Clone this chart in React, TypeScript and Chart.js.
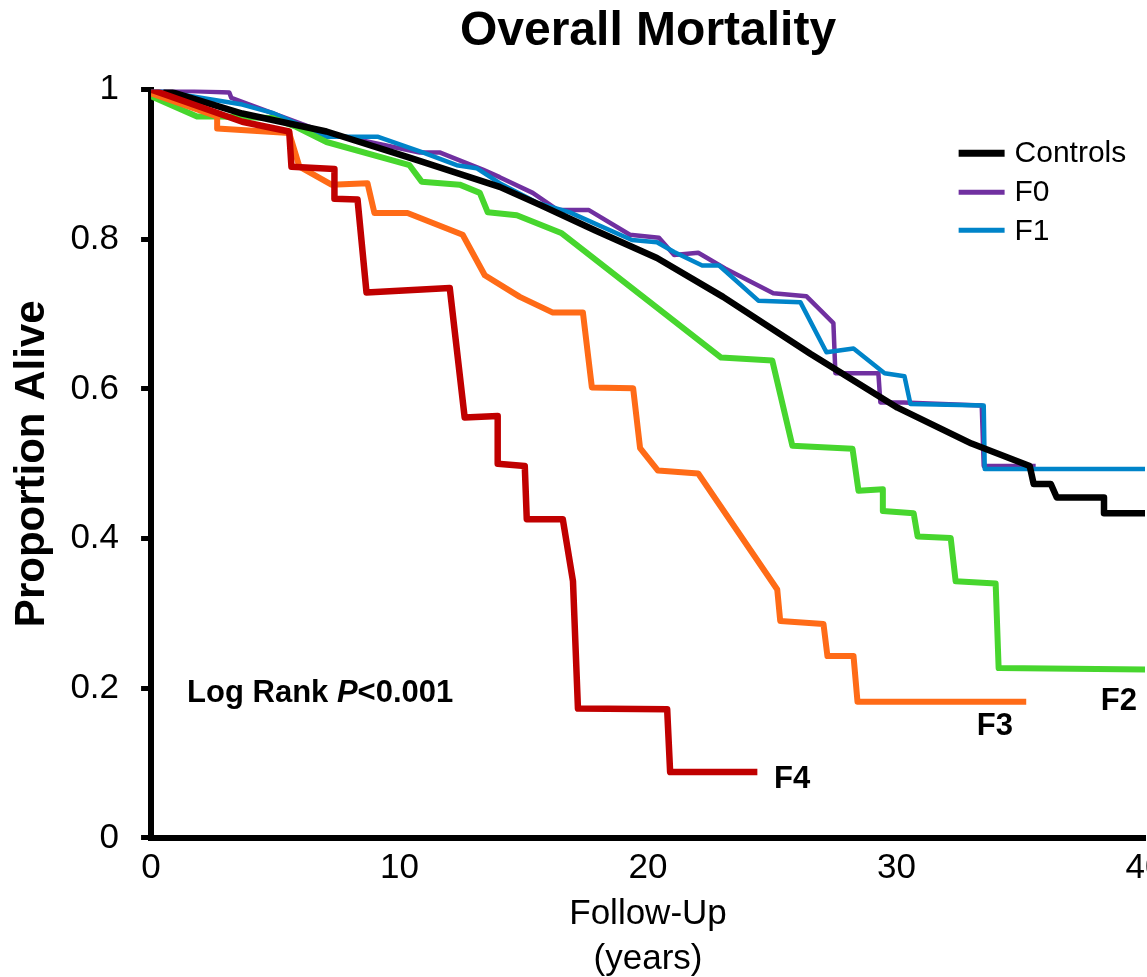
import { useEffect, useRef } from "react";
import { Chart, registerables } from "chart.js";

Chart.register(...registerables);

// ---------- data ----------
const chartTitle = "Overall Mortality";
const xTitle = ["Follow-Up", "(years)"];
const yTitle = "Proportion Alive";
const xMin = 0;
const xMax = 40;
const xStep = 10;
const yMin = 0;
const yMax = 1;
const yStep = 0.2;

const controlsYears = [0.5, 3.67, 7.06, 10.4, 14.03, 15.65, 17.86, 20.36, 23.02, 26.53, 30.04, 33.02, 35.36, 35.52, 36.21, 36.45, 38.35, 38.35, 40.2];
const controlsSurv = [1.0, 0.968, 0.944, 0.909, 0.87, 0.846, 0.812, 0.775, 0.723, 0.647, 0.575, 0.527, 0.497, 0.473, 0.473, 0.455, 0.455, 0.434, 0.434];

const f0Years = [0, 3.15, 3.23, 7.06, 10.81, 11.61, 13.35, 14.03, 15.36, 16.37, 17.62, 19.27, 20.44, 21.05, 22.02, 23.1, 25.04, 26.37, 27.46, 27.54, 29.27, 29.35, 30.28, 33.43, 33.51, 35.6];
const f0Surv = [1.0, 0.996, 0.989, 0.942, 0.916, 0.916, 0.893, 0.883, 0.862, 0.839, 0.839, 0.806, 0.802, 0.779, 0.782, 0.761, 0.728, 0.724, 0.688, 0.621, 0.621, 0.582, 0.582, 0.578, 0.497, 0.497];

const f1Years = [0, 3.67, 4.88, 7.06, 9.11, 10.93, 12.3, 13.1, 14.03, 15.52, 16.85, 19.35, 20.36, 21.05, 22.18, 22.86, 24.44, 26.13, 27.18, 28.27, 29.52, 30.32, 30.56, 33.51, 33.55, 40.2];
const f1Surv = [1.0, 0.98, 0.969, 0.937, 0.937, 0.916, 0.899, 0.895, 0.875, 0.849, 0.836, 0.799, 0.796, 0.783, 0.765, 0.765, 0.718, 0.716, 0.649, 0.654, 0.621, 0.617, 0.58, 0.578, 0.493, 0.493];

const f2Years = [0, 1.85, 2.74, 4.88, 5.85, 7.06, 10.4, 10.89, 12.42, 13.23, 13.55, 14.72, 16.53, 22.94, 25.0, 25.81, 28.23, 28.47, 29.45, 29.45, 30.69, 30.85, 32.18, 32.38, 33.99, 34.11, 40.2];
const f2Surv = [0.991, 0.964, 0.964, 0.962, 0.95, 0.93, 0.899, 0.877, 0.873, 0.862, 0.836, 0.832, 0.808, 0.642, 0.638, 0.524, 0.52, 0.464, 0.466, 0.437, 0.434, 0.403, 0.401, 0.343, 0.34, 0.227, 0.225];

const f3Years = [0, 2.66, 2.66, 5.56, 5.97, 7.26, 8.71, 8.99, 10.32, 12.54, 13.43, 14.84, 16.17, 17.38, 17.74, 19.4, 19.68, 20.4, 22.02, 25.2, 25.32, 27.06, 27.22, 28.27, 28.43, 35.22];
const f3Surv = [0.995, 0.964, 0.948, 0.942, 0.897, 0.873, 0.875, 0.835, 0.835, 0.806, 0.752, 0.723, 0.702, 0.702, 0.602, 0.601, 0.521, 0.491, 0.487, 0.332, 0.29, 0.286, 0.243, 0.243, 0.182, 0.182];

const f4Years = [0, 3.67, 5.56, 5.65, 7.38, 7.38, 8.31, 8.67, 12.02, 12.62, 13.95, 13.95, 15.04, 15.12, 16.57, 16.98, 17.18, 20.77, 20.89, 24.4];
const f4Surv = [1.0, 0.957, 0.944, 0.897, 0.894, 0.854, 0.853, 0.729, 0.735, 0.562, 0.564, 0.5, 0.497, 0.426, 0.426, 0.343, 0.173, 0.172, 0.088, 0.088];

const legendNames = ["Controls", "F0", "F1"];
const curveLabelNames = ["F4", "F3", "F2"];
const statText = ["Log Rank ", "P", "<0.001"];

// ---------- styles / placement ----------
const FONT = "'Liberation Sans', Arial, Helvetica, sans-serif";
const colors = {
  Controls: "#000000",
  F0: "#7030A0",
  F1: "#0084C9",
  F2: "#47D62E",
  F3: "#FF6B17",
  F4: "#C00000",
};
const widths = { Controls: 6.5, F0: 4.5, F1: 4.5, F2: 6, F3: 6, F4: 6.5 };
const drawOrder = { F4: 0, Controls: 1, F3: 2, F2: 3, F1: 4, F0: 5 };

// anchors in data units
const curveLabelAnchors = [
  [25.8, 0.078],
  [33.96, 0.149],
  [38.95, 0.183],
];
const statAnchor = [1.45, 0.193];
const legendLineX = [32.5, 34.35];
const legendTextX = 34.75;
const legendRowY = [0.915, 0.863, 0.812];
const legendLineWidths = [7, 5, 5];

function zip(xs: number[], ys: number[]) {
  return xs.map((x, i) => ({ x, y: ys[i] }));
}

const seriesTable: [string, number[], number[]][] = [
  ["Controls", controlsYears, controlsSurv],
  ["F0", f0Years, f0Surv],
  ["F1", f1Years, f1Surv],
  ["F2", f2Years, f2Surv],
  ["F3", f3Years, f3Surv],
  ["F4", f4Years, f4Surv],
];

const overlayPlugin = {
  id: "overlayText",
  afterDatasetsDraw(chart: any) {
    const { ctx } = chart;
    const xs = chart.scales.x;
    const ys = chart.scales.y;
    ctx.save();
    ctx.fillStyle = "#000";
    ctx.textBaseline = "middle";

    // curve end labels
    ctx.font = `bold 31px ${FONT}`;
    ctx.textAlign = "center";
    curveLabelNames.forEach((name, i) => {
      const [ax, ay] = curveLabelAnchors[i];
      ctx.fillText(name, xs.getPixelForValue(ax), ys.getPixelForValue(ay));
    });

    // statistic
    ctx.textAlign = "left";
    let px = xs.getPixelForValue(statAnchor[0]);
    const py = ys.getPixelForValue(statAnchor[1]);
    statText.forEach((part, i) => {
      ctx.font = i === 1 ? `italic bold 31px ${FONT}` : `bold 31px ${FONT}`;
      ctx.fillText(part, px, py);
      px += ctx.measureText(part).width;
    });

    // legend
    legendNames.forEach((name, i) => {
      const y = ys.getPixelForValue(legendRowY[i]);
      ctx.strokeStyle = (colors as any)[name];
      ctx.lineWidth = legendLineWidths[i];
      ctx.lineCap = "butt";
      ctx.beginPath();
      ctx.moveTo(xs.getPixelForValue(legendLineX[0]), y);
      ctx.lineTo(xs.getPixelForValue(legendLineX[1]), y);
      ctx.stroke();
      ctx.font = `30px ${FONT}`;
      ctx.fillStyle = "#000";
      ctx.fillText(name, xs.getPixelForValue(legendTextX), y + 1);
    });
    ctx.restore();
  },
};

export default function App() {
  const canvasRef = useRef<HTMLCanvasElement | null>(null);

  useEffect(() => {
    if (!canvasRef.current) return;
    Chart.defaults.font.family = FONT;
    Chart.defaults.color = "#000";
    const datasets = seriesTable.map(([name, xs, ys]) => ({
      label: name,
      data: zip(xs, ys),
      borderColor: (colors as any)[name],
      backgroundColor: (colors as any)[name],
      borderWidth: (widths as any)[name],
      pointRadius: 0,
      pointHoverRadius: 0,
      tension: 0,
      fill: false,
      borderJoinStyle: "round" as const,
      borderCapStyle: "butt" as const,
      order: (drawOrder as any)[name],
    }));

    const chart = new Chart(canvasRef.current, {
      type: "line",
      data: { datasets },
      options: {
        animation: false,
        responsive: false,
        maintainAspectRatio: false,
        events: [],
        layout: { padding: { left: 0, right: 55, top: 0, bottom: 0 } },
        plugins: {
          legend: { display: false },
          tooltip: { enabled: false },
          title: {
            display: true,
            text: chartTitle,
            fullSize: false,
            color: "#000",
            font: { family: FONT, size: 48, weight: "bold", lineHeight: 1.2 },
            padding: { top: 3, bottom: 29 },
          },
        },
        scales: {
          x: {
            type: "linear",
            min: xMin,
            max: xMax,
            border: { display: true, color: "#000", width: 6 },
            grid: { display: false, drawTicks: false },
            ticks: {
              stepSize: xStep,
              padding: 9,
              color: "#000",
              font: { family: FONT, size: 35, lineHeight: 1.2 },
              maxRotation: 0,
            },
            title: {
              display: true,
              text: xTitle,
              color: "#000",
              font: { family: FONT, size: 35, lineHeight: 1.286 },
              padding: { top: -6.5, bottom: 8.5 },
            },
          },
          y: {
            type: "linear",
            min: yMin,
            max: yMax,
            border: { display: true, color: "#000", width: 6 },
            grid: {
              display: true,
              drawOnChartArea: false,
              drawTicks: true,
              tickLength: 10,
              color: "#000",
              lineWidth: 5,
            },
            ticks: {
              stepSize: yStep,
              padding: 22,
              color: "#000",
              font: { family: FONT, size: 35, lineHeight: 1.2 },
              callback: (v: any) => String(Math.round(Number(v) * 10) / 10),
            },
            title: {
              display: true,
              text: yTitle,
              color: "#000",
              font: { family: FONT, size: 42, weight: "bold", lineHeight: 1.2 },
              padding: { top: 7, bottom: -9 },
            },
          },
        },
      },
      plugins: [overlayPlugin],
    });
    return () => chart.destroy();
  }, []);

  return (
    <div
      style={{
        position: "absolute",
        left: 0,
        top: 0,
        width: 1147,
        height: 977,
        overflow: "hidden",
        background: "#fff",
      }}
    >
      <canvas ref={canvasRef} width={1200} height={990} style={{ display: "block" }} />
    </div>
  );
}
